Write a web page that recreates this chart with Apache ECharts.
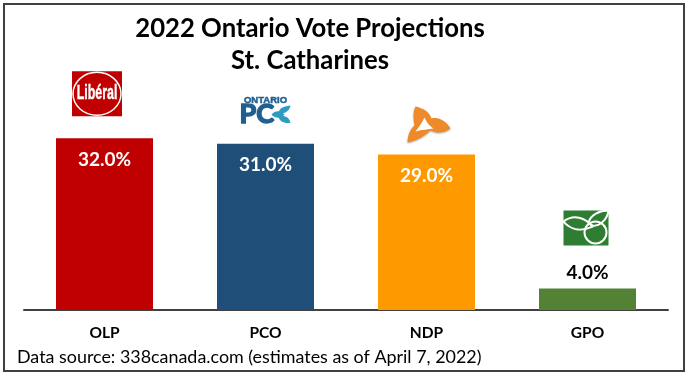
<!DOCTYPE html>
<html><head><meta charset="utf-8">
<style>html,body{margin:0;padding:0;background:#fff}#c{width:691px;height:379px}</style>
<script src="https://cdn.jsdelivr.net/npm/echarts@6/dist/echarts.min.js"></script>
</head><body><div id="c"></div>
<script>
const categories = ['OLP','PCO','NDP','GPO'];
const values = [32.0,31.0,29.0,4.0];
const colors = ['#C00000','#1F4E79','#FF9900','#548235'];
const titleLines = '2022 Ontario Vote Projections\nSt. Catharines';
const source = 'Data source: 338canada.com (estimates as of April 7, 2022)';
const FONT = 'Lato,"Open Sans",sans-serif';

function logo(i, cx, top){
  const X = x => cx + x, Y = y => top + y;
  const P = (d, style) => ({type:'path',x:cx,y:top,shape:{pathData:d},style});
  if (i === 0) return [
    {type:'rect',shape:{x:X(-32.5),y:Y(-67),width:50,height:45},style:{fill:'#C00000'}},
    {type:'ellipse',shape:{cx:X(-7.5),cy:Y(-44.5),rx:24,ry:21.5},style:{fill:'#C00000',stroke:'#fff',lineWidth:1.5}},
    {type:'text',x:X(-7.5),y:Y(-55),scaleX:0.62,style:{text:'Libéral',fill:'#fff',stroke:'#fff',lineWidth:0.4,font:'bold 20px "Liberation Sans",sans-serif',textAlign:'center'}}
  ];
  if (i === 1) return [
    {type:'text',x:X(0),y:Y(-48),style:{text:'ONTARIO',fill:'#1F5F92',stroke:'#1F5F92',lineWidth:0.5,font:'bold 9.5px "Liberation Sans",sans-serif',textAlign:'center'}},
    {type:'text',x:X(-26),y:Y(-43),style:{text:'PC',fill:'#1F5F92',stroke:'#1F5F92',lineWidth:1.4,font:'bold 27px Lato,sans-serif'}},
    P('M6 -29 C10 -34 16 -33 19 -29 C15 -25 10 -25 6 -29Z',{fill:'#2E9CC0'}),
    P('M13 -31 C14 -36 19 -38 25 -38 C24 -33 19 -29 13 -31Z',{fill:'#2E9CC0'}),
    P('M13 -27 C19 -29 24 -26 25 -21 C19 -20 14 -22 13 -27Z',{fill:'#2E9CC0'})
  ];
  if (i === 2) return [
    P('M-11 -48 C-2 -46 3 -42 5 -36 C12 -38 20 -33 24 -26 C18 -21 10 -21 4 -24 C0 -20 -10 -13 -19 -12 C-19 -19 -16 -26 -12 -29 C-13 -36 -14 -42 -11 -48Z',{fill:'#EE8A2A',shadowBlur:2,shadowColor:'rgba(0,0,0,0.3)',shadowOffsetY:1}),
    P('M-2 -37 C0 -33 2 -29 7 -26 C2 -25 -5 -25 -11 -23 C-8 -27 -5 -31 -2 -37Z',{fill:'#fff'})
  ];
  return [
    {type:'rect',shape:{x:X(-24),y:Y(-78),width:45,height:35},style:{fill:'#2E7D32'}},
    P('M-24 -67 C-14 -75 -2 -71 5 -62 C-8 -56 -18 -60 -24 -67Z',{fill:'none',stroke:'#fff',lineWidth:2}),
    {type:'circle',shape:{cx:X(8),cy:Y(-56),r:11},style:{fill:'none',stroke:'#fff',lineWidth:2}},
    P('M1 -66 C3 -74 12 -78 21 -78 C20 -70 13 -62 5 -63Z',{fill:'none',stroke:'#fff',lineWidth:2})
  ];
}

const chart = echarts.init(document.getElementById('c'),null,{renderer:'canvas'});
chart.setOption({
  animation:false,
  backgroundColor:'#fff',
  title:{text:titleLines,left:305,top:8,textAlign:'center',
    textStyle:{color:'#000',fontFamily:FONT,fontWeight:'bold',fontSize:25.7,lineHeight:32}},
  grid:{left:24,right:23,top:31,bottom:69},
  xAxis:{type:'category',data:categories,
    axisLine:{lineStyle:{color:'#404040',width:2}},axisTick:{show:false},
    axisLabel:{color:'#000',fontFamily:FONT,fontWeight:'bold',fontSize:15.5,margin:15}},
  yAxis:{type:'value',min:0,max:52,show:false,splitLine:{show:false}},
  series:[
    {type:'bar',barWidth:97,
     data:values.map((v,i)=>({value:v,itemStyle:{color:colors[i]},
       label:i===3?{position:'top',color:'#000',distance:6}:{position:'insideTop',color:'#fff',distance:12}})),
     label:{show:true,fontFamily:FONT,fontWeight:'bold',fontSize:19,formatter:p=>p.value.toFixed(1)+'%'}},
    {type:'custom',silent:true,z:5,
     data:values.map((v,i)=>[i,v]),
     encode:{x:0,y:1},
     renderItem:(params,api)=>{
       const pt = api.coord([api.value(0),api.value(1)]);
       return {type:'group',children:logo(params.dataIndex,pt[0],pt[1])};
     }}
  ],
  graphic:[
    {type:'rect',shape:{x:4,y:4,width:680,height:367},style:{fill:'none',stroke:'#404040',lineWidth:2},silent:true},
    {type:'text',x:17,y:348,style:{text:source,fill:'#000',font:'17.9px '+FONT}}
  ]
});
</script></body></html>
